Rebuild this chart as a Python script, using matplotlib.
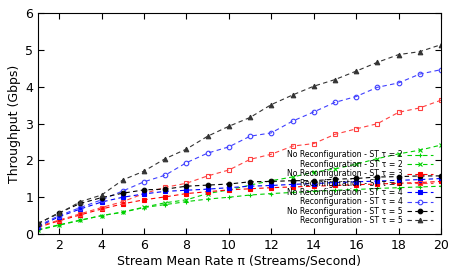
import matplotlib
matplotlib.use("Agg")
import matplotlib.pyplot as plt

# stream mean rate
rate = list(range(1, 21))

# throughput (Gbps)
no_reconf_t2 = [0.10, 0.24, 0.37, 0.50, 0.59, 0.72, 0.80, 0.88, 0.95, 1.00,
                1.06, 1.10, 1.13, 1.16, 1.19, 1.21, 1.24, 1.26, 1.28, 1.30]
reconf_t2 = [0.12, 0.25, 0.38, 0.50, 0.60, 0.73, 0.85, 0.93, 1.10, 1.20,
             1.33, 1.45, 1.55, 1.68, 1.77, 1.90, 2.05, 2.18, 2.28, 2.42]
no_reconf_t3 = [0.18, 0.36, 0.52, 0.68, 0.82, 0.93, 1.01, 1.10, 1.15, 1.20,
                1.23, 1.26, 1.28, 1.30, 1.32, 1.34, 1.36, 1.38, 1.40, 1.43]
reconf_t3 = [0.20, 0.38, 0.55, 0.72, 0.88, 1.10, 1.27, 1.38, 1.58, 1.74,
             2.03, 2.17, 2.39, 2.46, 2.71, 2.86, 3.00, 3.31, 3.43, 3.64]
no_reconf_t4 = [0.20, 0.47, 0.68, 0.87, 1.00, 1.09, 1.16, 1.19, 1.22, 1.26,
                1.30, 1.32, 1.35, 1.37, 1.40, 1.42, 1.44, 1.46, 1.48, 1.51]
reconf_t4 = [0.22, 0.50, 0.72, 0.93, 1.17, 1.42, 1.60, 1.94, 2.20, 2.37,
             2.66, 2.75, 3.07, 3.32, 3.58, 3.74, 3.99, 4.11, 4.35, 4.47]
no_reconf_t5 = [0.28, 0.58, 0.83, 0.99, 1.11, 1.20, 1.22, 1.30, 1.33, 1.36,
                1.42, 1.43, 1.45, 1.45, 1.49, 1.51, 1.55, 1.56, 1.58, 1.58]
reconf_t5 = [0.29, 0.56, 0.88, 1.06, 1.47, 1.71, 2.05, 2.31, 2.66, 2.93,
             3.17, 3.52, 3.78, 4.02, 4.20, 4.43, 4.67, 4.88, 4.96, 5.15]

plt.rcParams['font.family'] = ['DejaVu Sans']

fig = plt.figure(figsize=(4.57, 2.74), dpi=100)
ax = fig.add_axes([0.083, 0.146, 0.882, 0.805])

dash = (0, (4, 3))
green = '#00d000'

series = [
    (no_reconf_t2, 'No Reconfiguration - ST τ = 2', green, '+', 'full'),
    (reconf_t2, 'Reconfiguration - ST τ = 2', green, 'x', 'full'),
    (no_reconf_t3, 'No Reconfiguration - ST τ = 3', 'red', 's', 'full'),
    (reconf_t3, 'Reconfiguration - ST τ = 3', '#ff4040', 's', 'none'),
    (no_reconf_t4, 'No Reconfiguration - ST τ = 4', 'blue', 's', 'full'),
    (reconf_t4, 'Reconfiguration - ST τ = 4', '#4040ff', 'o', 'none'),
    (no_reconf_t5, 'No Reconfiguration - ST τ = 5', 'black', 'o', 'full'),
    (reconf_t5, 'Reconfiguration - ST τ = 5', '#333333', '^', 'full'),
]

for vals, label, col, mk, fill in series:
    ms = 3.3
    if fill == 'full' and mk == 's' and col == 'red':
        ms = 3.0
    ax.plot(rate, vals, linestyle=dash, color=col, linewidth=0.8,
            marker=mk, markersize=ms, fillstyle=fill, markeredgewidth=0.8,
            label=label)

ax.set_xlim(1, 20)
ax.set_ylim(0, 6)
ax.set_xticks(range(2, 21, 2))
ax.set_yticks(range(0, 7))
ax.tick_params(direction='in', top=True, right=True, labelsize=9, length=4)
ax.set_xlabel('Stream Mean Rate π (Streams/Second)', fontsize=9, labelpad=2)
ax.set_ylabel('Throughput (Gbps)', fontsize=9, labelpad=3)

ax.legend(loc='lower right', bbox_to_anchor=(0.98, 0.04), borderaxespad=0,
          frameon=False, fontsize=5.6, markerfirst=False, labelspacing=0.05,
          handlelength=3.3, handletextpad=0.6, borderpad=0)

fig.savefig('out.png', dpi=100)
